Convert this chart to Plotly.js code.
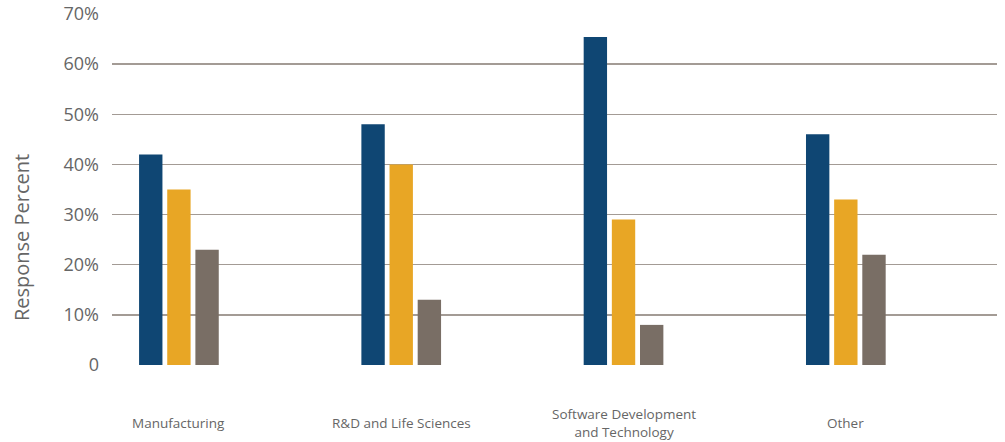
<!DOCTYPE html>
<html>
<head>
<meta charset="utf-8">
<script src="https://cdn.plot.ly/plotly-3.0.1.min.js"></script>
<style>
  html, body { margin: 0; padding: 0; background: #ffffff; }
  #chart { width: 1005px; height: 442px; }
</style>
</head>
<body>
<div id="chart"></div>
<script>
// Sectors shown along the horizontal axis
const categories = ["Manufacturing", "R&D and Life Sciences", "Software Development<br>and Technology", "Other"];

// Response percentages for the three answer groups in each sector
const seriesA = [42, 48, 65.4, 46];
const seriesB = [35, 40, 29, 33];
const seriesC = [23, 13, 8, 22];

// Vertical axis tick values and their labels
const yTickVals = [0, 10, 20, 30, 40, 50, 60, 70];
const yTickText = ["0", "10%", "20%", "30%", "40%", "50%", "60%", "70%"];

const colors = ["#0f4673", "#e8a625", "#796e65"];
const textColor = "#666666";
const font = "'Open Sans', Lato, sans-serif";

const xs = categories.map((_, i) => i);

function barTrace(values, color, name) {
  return {
    type: "bar",
    name: name,
    x: xs,
    y: values,
    marker: { color: color, line: { width: 0 } },
    hoverinfo: "y"
  };
}

const data = [
  barTrace(seriesA, colors[0], "A"),
  barTrace(seriesB, colors[1], "B"),
  barTrace(seriesC, colors[2], "C")
];

// Category names sit well below the baseline, centred vertically
const annotations = categories.map((c, i) => ({
  x: i,
  y: -0.166,
  xref: "x",
  yref: "paper",
  text: c,
  showarrow: false,
  xanchor: "center",
  yanchor: "middle",
  align: "center",
  font: { family: font, size: 13.5, color: textColor }
}));

// Rotated axis title, set a little below the middle of the plot
annotations.push({
  x: -0.103,
  y: 0.364,
  xref: "paper",
  yref: "paper",
  text: "Response Percent",
  textangle: -90,
  showarrow: false,
  xanchor: "center",
  yanchor: "middle",
  font: { family: font, size: 20, color: textColor }
});

const layout = {
  width: 1005,
  height: 442,
  margin: { l: 112, r: 8, t: 13.5, b: 77.3, pad: 0 },
  paper_bgcolor: "#ffffff",
  plot_bgcolor: "#ffffff",
  showlegend: false,
  barmode: "group",
  bargap: 0.62,
  bargroupgap: 0.17,
  font: { family: font, color: textColor },
  xaxis: {
    range: [-0.301, 3.680],
    showticklabels: false,
    showgrid: false,
    zeroline: false,
    showline: false,
    ticks: "",
    fixedrange: true
  },
  yaxis: {
    range: [0, 70],
    tickvals: yTickVals,
    ticktext: yTickText,
    showgrid: true,
    gridcolor: "#a39b95",
    gridwidth: 1.5,
    zeroline: false,
    showline: false,
    ticks: "",
    ticklabelstandoff: 12,
    tickfont: { family: font, size: 18, color: textColor },
    fixedrange: true
  },
  annotations: annotations
};

Plotly.newPlot("chart", data, layout, { displayModeBar: false, staticPlot: true });
</script>
</body>
</html>
